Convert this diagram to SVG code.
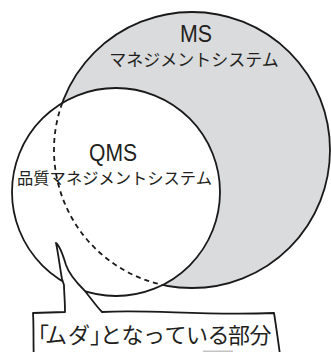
<svg xmlns="http://www.w3.org/2000/svg" width="331" height="352" viewBox="0 0 331 352">
<style>
.ln{stroke:#1a1a1a;stroke-width:1.8;}
.lat{font-family:"Liberation Sans","Noto Sans",sans-serif;fill:#231f20;}
.jp{font-family:"Noto Sans CJK JP","Noto Sans",sans-serif;fill:#231f20;}
</style>
<rect width="331" height="352" fill="#ffffff"/>
<g id="ms">
<circle class="ln" cx="192" cy="150" r="138" fill="#dadbdc"/>
</g>
<g id="qms">
<circle class="ln" cx="116" cy="192" r="104" fill="#ffffff"/>
</g>
<g id="connectors">
<path class="ln" d="M62.25,102.96 A138,138 0 0 0 162.79,284.88" fill="none" stroke-width="1.6" stroke-dasharray="5,4"/>
</g>
<g id="ms-label">
<text class="lat" x="196" y="41.5" font-size="24" text-anchor="middle" textLength="32" lengthAdjust="spacingAndGlyphs">MS</text>
<text class="jp" x="194" y="66" font-size="17" text-anchor="middle">マネジメントシステム</text>
</g>
<g id="qms-label">
<text class="lat" x="113" y="161" font-size="24" text-anchor="middle" textLength="48" lengthAdjust="spacingAndGlyphs">QMS</text>
<text class="jp" x="114.5" y="184" font-size="16.3" text-anchor="middle">品質マネジメントシステム</text>
</g>
<g id="callout">
<path class="ln" fill="#ffffff" stroke-linejoin="round" d="M56,243 C60,246 63,255 66,265 C69,274 76,282 84,290 C90,297 96,306 102,312 C150,309 200,316 274,313 C276,325 278,340 281,362 L34,362 C33,345 34,330 33,313 L65,312 C65,300 64,292 64,285 L62,279 C60,268 58,252 56,243 Z"/>
<text class="jp" y="343" font-size="22" x="27 45 68 90 100 121.5 143 164.5 186 207.5 228 249.5">「ムダ」となっている部分</text>
</g>
<rect x="203" y="350.5" width="30" height="1.5" fill="#c4c4c4"/>
</svg>
